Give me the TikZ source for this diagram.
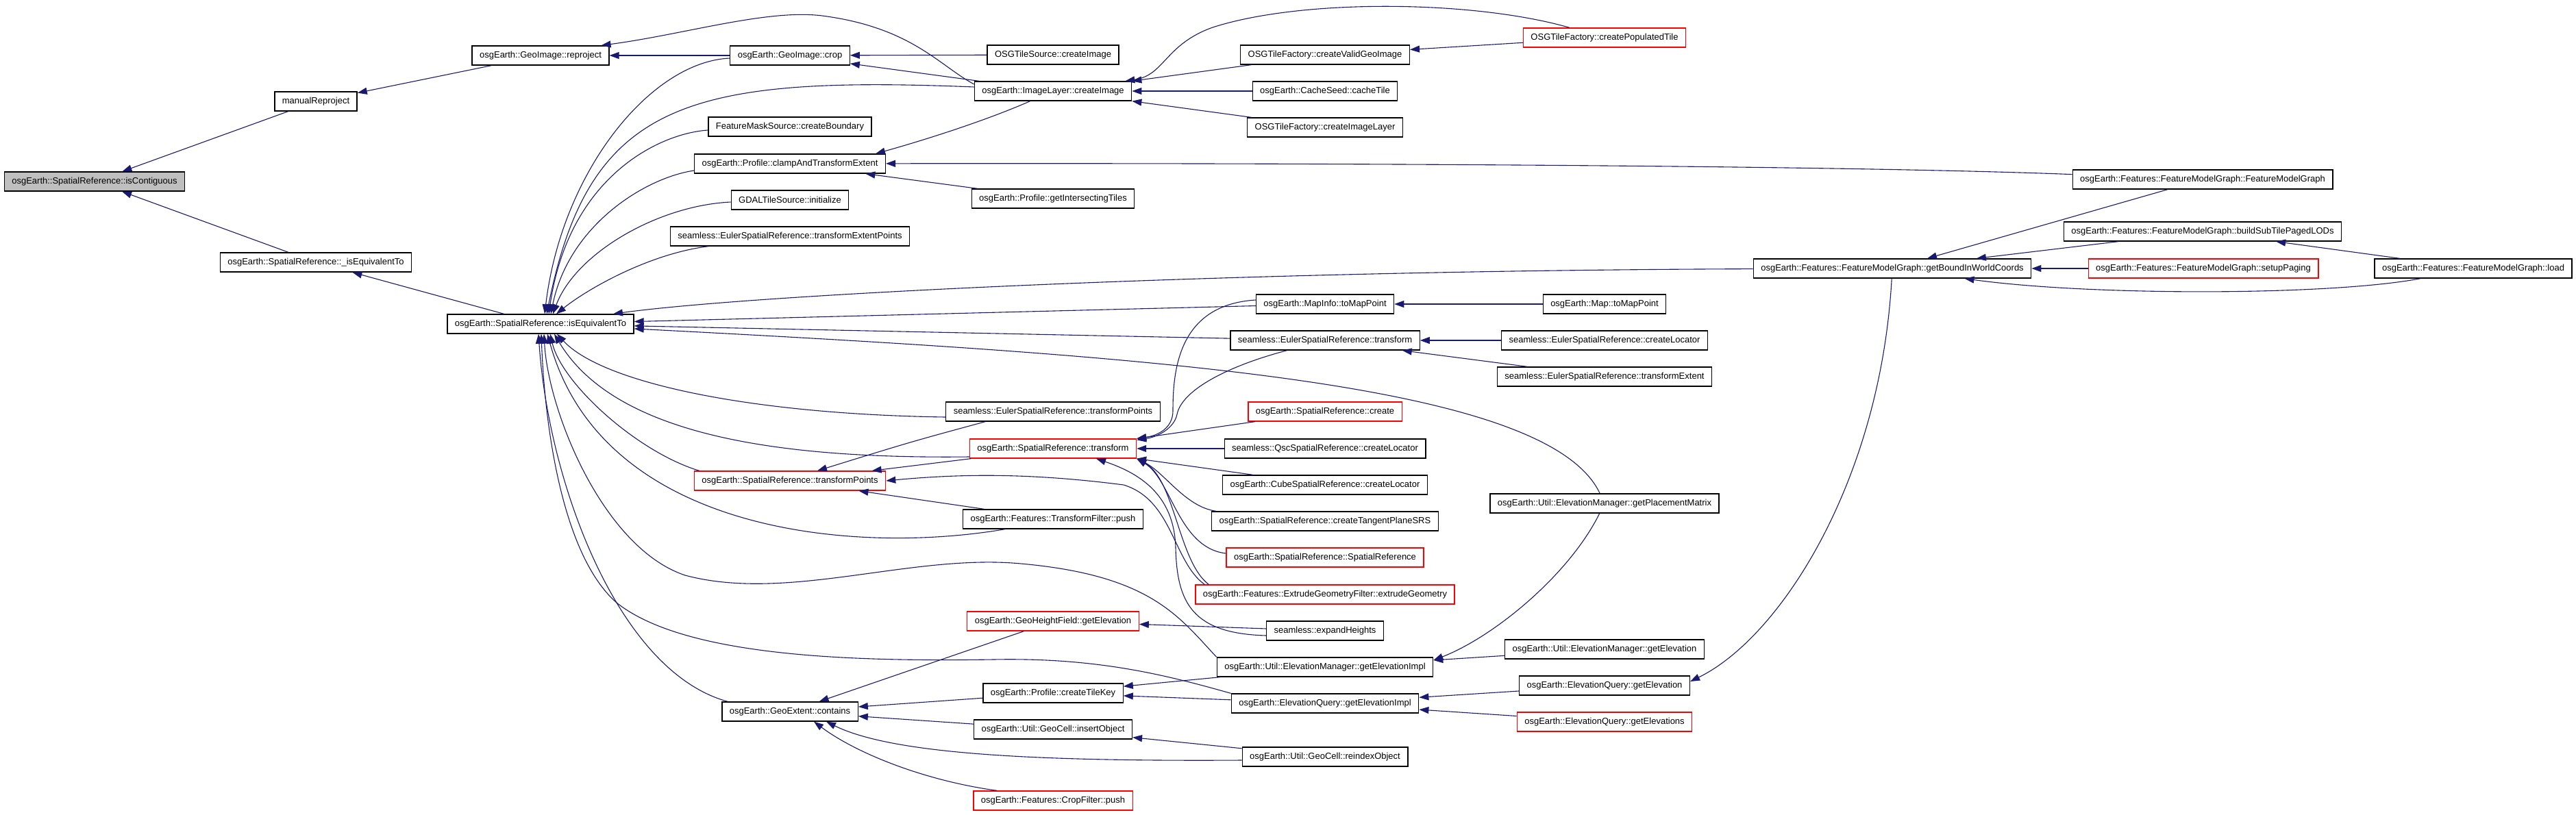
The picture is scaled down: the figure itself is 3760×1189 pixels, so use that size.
\documentclass[tikz,border=0pt]{standalone}
\usepackage{fontspec}
\setmainfont{Liberation Sans}
\usepackage{xcolor}
\usetikzlibrary{arrows.meta}
\definecolor{edgeBlue}{RGB}{25,25,112}
\definecolor{truncRed}{RGB}{255,0,0}
\definecolor{focusGray}{RGB}{191,191,191}

\begin{document}
\begin{tikzpicture}[x=1pt, y=-1pt,
fn/.style={rectangle, draw=black, fill=white, line width=1.3pt,
minimum height=28pt, inner xsep=11pt, inner ysep=0pt,
font=\fontsize{13}{15}\selectfont},
trunc/.style={fn, draw=truncRed},
focus/.style={fn, fill=focusGray},
arrow/.style={-{Triangle[length=14pt, width=10pt]}, color=edgeBlue, line width=1.1pt}]
\useasboundingbox (0,0) rectangle (3760,1189);
\node[focus] (isC) at (138,265) {osgEarth::SpatialReference::isContiguous};
\node[fn] (manual) at (461,148) {manualReproject};
\node[fn] (uIsEq) at (461,383) {osgEarth::SpatialReference::\_isEquivalentTo};
\node[fn] (reproj) at (789,81) {osgEarth::GeoImage::reproject};
\node[fn] (isEq) at (789,473) {osgEarth::SpatialReference::isEquivalentTo};
\node[fn] (crop) at (1153,81) {osgEarth::GeoImage::crop};
\node[fn] (fmask) at (1153,185) {FeatureMaskSource::createBoundary};
\node[fn] (clamp) at (1153,239) {osgEarth::Profile::clampAndTransformExtent};
\node[fn] (gdal) at (1153,292) {GDALTileSource::initialize};
\node[fn] (tep) at (1153,345) {seamless::EulerSpatialReference::transformExtentPoints};
\node[trunc] (tpts) at (1153,702) {osgEarth::SpatialReference::transformPoints};
\node[fn] (contains) at (1153,1039) {osgEarth::GeoExtent::contains};
\node[fn] (osgsrc) at (1537,80) {OSGTileSource::createImage};
\node[fn] (imgl) at (1537,133) {osgEarth::ImageLayer::createImage};
\node[fn] (tiles) at (1537,290) {osgEarth::Profile::getIntersectingTiles};
\node[fn] (stp) at (1537,601) {seamless::EulerSpatialReference::transformPoints};
\node[trunc] (xform) at (1537,655) {osgEarth::SpatialReference::transform};
\node[fn] (tfpush) at (1537,758) {osgEarth::Features::TransformFilter::push};
\node[trunc] (hfelev) at (1537,907) {osgEarth::GeoHeightField::getElevation};
\node[fn] (tilekey) at (1537,1012) {osgEarth::Profile::createTileKey};
\node[fn] (insobj) at (1537,1065) {osgEarth::Util::GeoCell::insertObject};
\node[trunc] (crpush) at (1537,1169) {osgEarth::Features::CropFilter::push};
\node[fn] (validgi) at (1934,80) {OSGTileFactory::createValidGeoImage};
\node[fn] (cachet) at (1934,133) {osgEarth::CacheSeed::cacheTile};
\node[fn] (imglayer) at (1934,186) {OSGTileFactory::createImageLayer};
\node[fn] (mapinfo) at (1934,444) {osgEarth::MapInfo::toMapPoint};
\node[fn] (sxform) at (1934,497) {seamless::EulerSpatialReference::transform};
\node[trunc] (create) at (1934,601) {osgEarth::SpatialReference::create};
\node[fn] (qsc) at (1934,655) {seamless::QscSpatialReference::createLocator};
\node[fn] (cube) at (1934,708) {osgEarth::CubeSpatialReference::createLocator};
\node[fn] (tangent) at (1934,761) {osgEarth::SpatialReference::createTangentPlaneSRS};
\node[trunc] (srctor) at (1934,814) {osgEarth::SpatialReference::SpatialReference};
\node[trunc] (extrude) at (1934,868) {osgEarth::Features::ExtrudeGeometryFilter::extrudeGeometry};
\node[fn] (expand) at (1934,921) {seamless::expandHeights};
\node[fn] (emimpl) at (1934,974) {osgEarth::Util::ElevationManager::getElevationImpl};
\node[fn] (eqimpl) at (1934,1027) {osgEarth::ElevationQuery::getElevationImpl};
\node[fn] (reindex) at (1934,1105) {osgEarth::Util::GeoCell::reindexObject};
\node[trunc] (popul) at (2342,55) {OSGTileFactory::createPopulatedTile};
\node[fn] (map) at (2342,444) {osgEarth::Map::toMapPoint};
\node[fn] (slocator) at (2342,497) {seamless::EulerSpatialReference::createLocator};
\node[fn] (sextent) at (2342,550) {seamless::EulerSpatialReference::transformExtent};
\node[fn] (placement) at (2342,735) {osgEarth::Util::ElevationManager::getPlacementMatrix};
\node[fn] (emelev) at (2342,948) {osgEarth::Util::ElevationManager::getElevation};
\node[fn] (eqelev) at (2342,1001) {osgEarth::ElevationQuery::getElevation};
\node[trunc] (eqelevs) at (2342,1054) {osgEarth::ElevationQuery::getElevations};
\node[fn] (bound) at (2762,392) {osgEarth::Features::FeatureModelGraph::getBoundInWorldCoords};
\node[fn] (fmg) at (3215,262) {osgEarth::Features::FeatureModelGraph::FeatureModelGraph};
\node[fn] (subtile) at (3215,338) {osgEarth::Features::FeatureModelGraph::buildSubTilePagedLODs};
\node[trunc] (paging) at (3216,392) {osgEarth::Features::FeatureModelGraph::setupPaging};
\node[fn] (load) at (3610,392) {osgEarth::Features::FeatureModelGraph::load};
\draw[arrow] (manual) -- (isC);
\draw[arrow] (uIsEq) -- (isC);
\draw[arrow] (reproj) -- (manual);
\draw[arrow] (isEq) -- (uIsEq);
\draw[arrow] (crop) -- (reproj);
\draw[arrow] (osgsrc) -- (crop);
\draw[arrow] (imgl) -- (crop);
\draw[arrow] (popul) -- (validgi);
\draw[arrow] (validgi) -- (imgl.north east);
\draw[arrow] (cachet) -- (imgl);
\draw[arrow] (imglayer) -- (imgl.south east);
\draw[arrow] (tiles) -- (clamp);
\draw[arrow] (fmg) -- (bound);
\draw[arrow] (subtile) -- (bound);
\draw[arrow] (paging) -- (bound);
\draw[arrow] (load) -- (subtile);
\draw[arrow] (mapinfo) -- (isEq);
\draw[arrow] (map) -- (mapinfo);
\draw[arrow] (sxform) -- (isEq);
\draw[arrow] (slocator) -- (sxform);
\draw[arrow] (sextent) -- (sxform);
\draw[arrow] (create) -- (xform.north east);
\draw[arrow] (qsc) -- (xform);
\draw[arrow] (cube) -- (xform.south east);
\draw[arrow] (xform) -- (tpts);
\draw[arrow] (tfpush) -- (tpts);
\draw[arrow] (expand) -- (hfelev);
\draw[arrow] (hfelev) -- (contains);
\draw[arrow] (tilekey) -- (contains);
\draw[arrow] (insobj) -- (contains);
\draw[arrow] (reindex) -- (insobj);
\draw[arrow] (emimpl) -- (tilekey);
\draw[arrow] (eqimpl) -- (tilekey);
\draw[arrow] (emelev) -- (emimpl);
\draw[arrow] (eqelev) -- (eqimpl);
\draw[arrow] (eqelevs) -- (eqimpl);
\draw[arrow] ([yshift=10pt]imgl.west) .. controls (1370,95) and (1330,40) .. (1200,23)
    .. controls (1120,13) and (1000,50) .. ([xshift=-12pt]reproj.north east);
\draw[arrow] ([yshift=-4pt]crop.west) .. controls (950,90) and (820,250) .. ([xshift=6pt]isEq.north);
\draw[arrow] ([yshift=6pt]imgl.west) .. controls (1000,110) and (860,150) .. ([xshift=9pt]isEq.north);
\draw[arrow] ([yshift=-5pt]fmask.west) .. controls (960,195) and (830,260) .. ([xshift=12pt]isEq.north);
\draw[arrow] ([yshift=-10pt]clamp.west) .. controls (940,260) and (830,330) .. ([xshift=15pt]isEq.north);
\draw[arrow] ([yshift=-3pt]gdal.west) .. controls (960,300) and (840,370) .. ([xshift=18pt]isEq.north);
\draw[arrow] (tep) .. controls (950,370) and (860,420) .. ([xshift=23pt]isEq.north);
\draw[arrow] (imgl) .. controls (1430,180) and (1330,210) .. ([xshift=-15pt]clamp.north east);
\draw[arrow] (fmg) .. controls (2700,242) and (2000,238) .. (clamp);
\draw[arrow] (popul) .. controls (2150,0) and (1900,-2) .. (1770,40)
    .. controls (1700,65) and (1700,110) .. ([xshift=-10pt]imgl.north east);
\draw[arrow] (bound) .. controls (1800,395) and (1100,430) .. (isEq);
\draw[arrow] (load) .. controls (3400,432) and (3050,432) .. (bound);
\draw[arrow] (bound) .. controls (2745,700) and (2600,930) .. ([yshift=6pt]eqelev.east);
\draw[arrow] (placement) .. controls (2260,560) and (1700,520) .. (isEq);
\draw[arrow] (placement) .. controls (2290,840) and (2180,930) .. ([yshift=10pt]emimpl.east);
\draw[arrow] ([yshift=6pt]mapinfo.west) .. controls (1720,445) and (1712,540) .. (1712,600)
    .. controls (1712,625) and (1690,636) .. (xform.north east);
\draw[arrow] (sxform) .. controls (1790,535) and (1725,570) .. (1718,605)
    .. controls (1714,625) and (1690,638) .. ([yshift=-2pt]xform.north east);
\draw[arrow] ([xshift=7pt]tangent.north west) .. controls (1730,740) and (1700,690) .. (xform.south east);
\draw[arrow] ([yshift=6pt]srctor.west) .. controls (1720,800) and (1710,700) .. (xform.south east);
\draw[arrow] ([xshift=20pt]extrude.north west) .. controls (1720,820) and (1715,700) .. (xform.south east);
\draw[arrow] ([xshift=14pt]extrude.north west) .. controls (1712,820) and (1712,730) .. (1640,708)
    .. controls (1500,690) and (1400,692) .. (tpts.east);
\draw[arrow] ([yshift=-7pt]expand.west) .. controls (1740,925) and (1718,880) .. (1716,800)
    .. controls (1714,720) and (1660,690) .. ([xshift=63pt]xform.south);
\draw[arrow] ([xshift=58pt]stp.south west) .. controls (1330,645) .. ([xshift=40pt]tpts.north);
\draw[arrow] ([yshift=-8pt]stp.west) .. controls (1100,605) and (880,560) .. ([xshift=24pt]isEq.south);
\draw[arrow] ([yshift=-12pt]xform.west) .. controls (1150,670) and (900,640) .. ([xshift=20pt]isEq.south);
\draw[arrow] ([xshift=8pt]tpts.north west) .. controls (930,660) and (820,560) .. ([xshift=14pt]isEq.south);
\draw[arrow] ([xshift=62pt]tfpush.south west) .. controls (1250,810) and (880,780) .. ([xshift=10pt]isEq.south);
\draw[arrow] (emimpl.north west) .. controls (1720,900) and (1680,840) .. (1490,823)
    .. controls (1330,808) and (1150,880) .. (1000,840)
    .. controls (880,800) and (800,600) .. ([xshift=5pt]isEq.south);
\draw[arrow] (eqimpl.north west) .. controls (1700,985) and (1600,960) .. (1450,963)
    .. controls (1250,966) and (1000,960) .. (900,880)
    .. controls (820,810) and (795,620) .. ([xshift=1pt]isEq.south);
\draw[arrow] ([xshift=9pt]contains.north west) .. controls (900,980) and (800,700) .. ([xshift=-3pt]isEq.south);
\draw[arrow] ([yshift=-5pt]reindex.west) .. controls (1500,1112) and (1300,1100) .. ([xshift=53pt]contains.south);
\draw[arrow] ([xshift=35pt]crpush.north west) .. controls (1350,1140) and (1250,1100) .. ([xshift=35pt]contains.south);
\end{tikzpicture}
\end{document}
